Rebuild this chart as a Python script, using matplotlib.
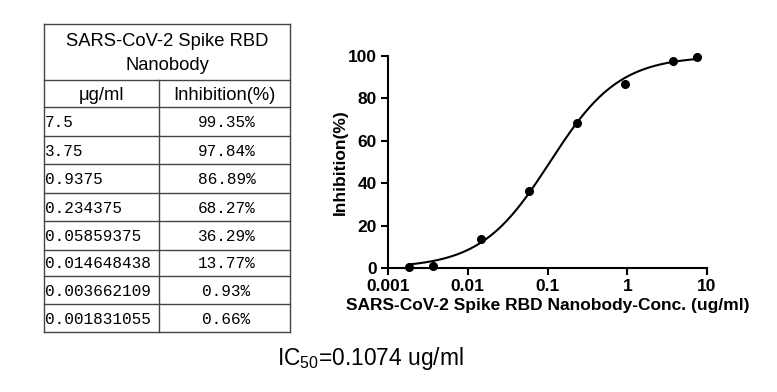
import numpy as np
import matplotlib
matplotlib.use("Agg")
import matplotlib.pyplot as plt

conc_labels = ["7.5", "3.75", "0.9375", "0.234375", "0.05859375", "0.014648438", "0.003662109", "0.001831055"]
conc = [7.5, 3.75, 0.9375, 0.234375, 0.05859375, 0.014648438, 0.003662109, 0.001831055]
inhib = [99.35, 97.84, 86.89, 68.27, 36.29, 13.77, 0.93, 0.66]
inhib_labels = ["99.35%", "97.84%", "86.89%", "68.27%", "36.29%", "13.77%", "0.93%", "0.66%"]
ic50 = 0.1074
hill = 1.0
top = 100.0
bottom = 0.0

W, H = 777, 392
fig = plt.figure(figsize=(W / 100, H / 100), dpi=100)

# overlay axes in pixel coordinates for the table
ov = fig.add_axes([0, 0, 1, 1])
ov.set_xlim(0, W)
ov.set_ylim(H, 0)
ov.axis("off")

xl, xm, xr = 44, 159, 290
ys = [24, 80, 107, 136, 164, 193, 221, 250, 276, 304, 332]
lc = "#444444"
lw = 1.0
for y in ys:
    ov.plot([xl, xr], [y, y], color=lc, lw=lw)
ov.plot([xl, xl], [ys[0], ys[-1]], color=lc, lw=lw)
ov.plot([xr, xr], [ys[0], ys[-1]], color=lc, lw=lw)
ov.plot([xm, xm], [ys[1], ys[-1]], color=lc, lw=lw)

sans = "Liberation Sans"
mono = "Liberation Mono"
hs = 13.2
ov.text((xl + xr) / 2, 41, "SARS-CoV-2 Spike RBD", ha="center", va="center", fontsize=hs, family=sans)
ov.text((xl + xr) / 2, 65, "Nanobody", ha="center", va="center", fontsize=hs, family=sans)
ov.text((xl + xm) / 2, 95, "μg/ml", ha="center", va="center", fontsize=hs, family=sans)
ov.text((xm + xr) / 2, 95, "Inhibition(%)", ha="center", va="center", fontsize=hs, family=sans)
for i, (a, b) in enumerate(zip(conc_labels, inhib_labels)):
    yc = (ys[i + 2] + ys[i + 3]) / 2 + 1
    ov.text(xl + 1, yc, a, ha="left", va="center", fontsize=11.6, family=mono)
    ov.text((xm + xr) / 2 + 2, yc, b, ha="center", va="center", fontsize=11.6, family=mono)

ov.text(370, 358, r"IC$_{\mathregular{50}}$=0.1074 ug/ml", ha="center", va="center", fontsize=16.4, family=sans)

# main plot
ax = fig.add_axes([388 / W, (H - 268) / H, (707 - 388) / W, (268 - 56) / H])
ax.set_xscale("log")
ax.set_xlim(0.001, 10)
ax.set_ylim(0, 100)
xx = np.logspace(np.log10(min(conc)), np.log10(max(conc)), 300)
yy = bottom + (top - bottom) / (1 + (ic50 / xx) ** hill)
ax.plot(xx, yy, color="black", lw=1.5, clip_on=False)
ax.plot(conc, inhib, "o", color="black", ms=5.5, clip_on=False, zorder=5)

for s in ["top", "right"]:
    ax.spines[s].set_visible(False)
for s in ["left", "bottom"]:
    ax.spines[s].set_linewidth(1.5)
ax.set_xticks([0.001, 0.01, 0.1, 1, 10])
ax.set_xticklabels(["0.001", "0.01", "0.1", "1", "10"])
ax.xaxis.set_minor_locator(matplotlib.ticker.NullLocator())
ax.set_yticks([0, 20, 40, 60, 80, 100])
ax.tick_params(width=1.5, length=5, labelsize=12.5, pad=3)
for lab in ax.get_xticklabels() + ax.get_yticklabels():
    lab.set_fontweight("bold")
    lab.set_family(sans)
ax.set_xlabel("SARS-CoV-2 Spike RBD Nanobody-Conc. (ug/ml)", fontsize=12.5, fontweight="bold", family=sans, labelpad=3)
ax.set_ylabel("Inhibition(%)", fontsize=12.5, fontweight="bold", family=sans, labelpad=0)

fig.savefig("out.png", dpi=100)
